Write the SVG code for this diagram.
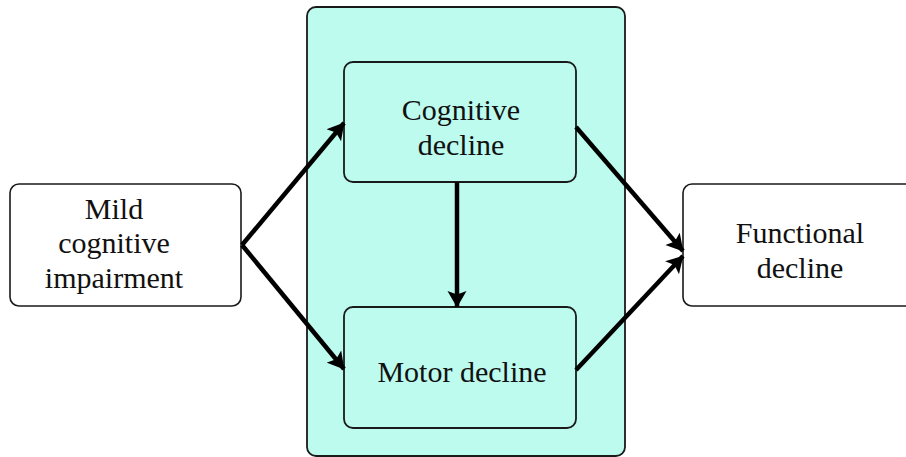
<svg xmlns="http://www.w3.org/2000/svg" width="906" height="457" viewBox="0 0 906 457">
  <style>
    .box { fill: #ffffff; stroke: #1a1a1a; stroke-width: 1.6; }
    .inner { fill: #bdfbee; stroke: #1a1a1a; stroke-width: 1.8; }
    .label { font-family: "Liberation Serif", "Times New Roman", serif; font-size: 30px; fill: #111111; text-anchor: middle; }
    .edge { stroke: #000000; stroke-width: 4.5; fill: none; marker-end: url(#head); }
  </style>
  <defs>
    <marker id="head" markerUnits="userSpaceOnUse" markerWidth="18" markerHeight="20" refX="16" refY="10" orient="auto">
      <path d="M0,0.5 L16.5,10 L0,19.5 L3.5,10 Z" fill="#000000"/>
    </marker>
  </defs>
  <rect width="906" height="457" fill="#ffffff"/>

  <!-- shaded container -->
  <g id="container">
    <rect class="inner" x="307" y="7" width="318" height="449" rx="9"/>
  </g>

  <g id="mci">
    <rect class="box" x="10" y="184" width="231" height="122" rx="9"/>
    <text class="label" x="114" y="219">Mild</text>
    <text class="label" x="114" y="253">cognitive</text>
    <text class="label" x="114" y="288">impairment</text>
  </g>

  <g id="cognitive">
    <rect class="inner" x="344" y="62" width="232" height="120" rx="9"/>
    <text class="label" x="461" y="120">Cognitive</text>
    <text class="label" x="461" y="155">decline</text>
  </g>

  <g id="motor">
    <rect class="inner" x="344" y="307" width="232" height="121" rx="9"/>
    <text class="label" x="462" y="382">Motor decline</text>
  </g>

  <g id="functional">
    <rect class="box" x="683" y="184" width="240" height="122" rx="9"/>
    <text class="label" x="800" y="243">Functional</text>
    <text class="label" x="800" y="278">decline</text>
  </g>

  <g id="connectors">
    <line class="edge" x1="242" y1="245" x2="344" y2="123"/>
    <line class="edge" x1="242" y1="245" x2="344" y2="369"/>
    <line class="edge" x1="457" y1="182" x2="457" y2="307"/>
    <line class="edge" x1="576" y1="127" x2="683" y2="251"/>
    <line class="edge" x1="576" y1="370" x2="683" y2="256"/>
  </g>
</svg>
